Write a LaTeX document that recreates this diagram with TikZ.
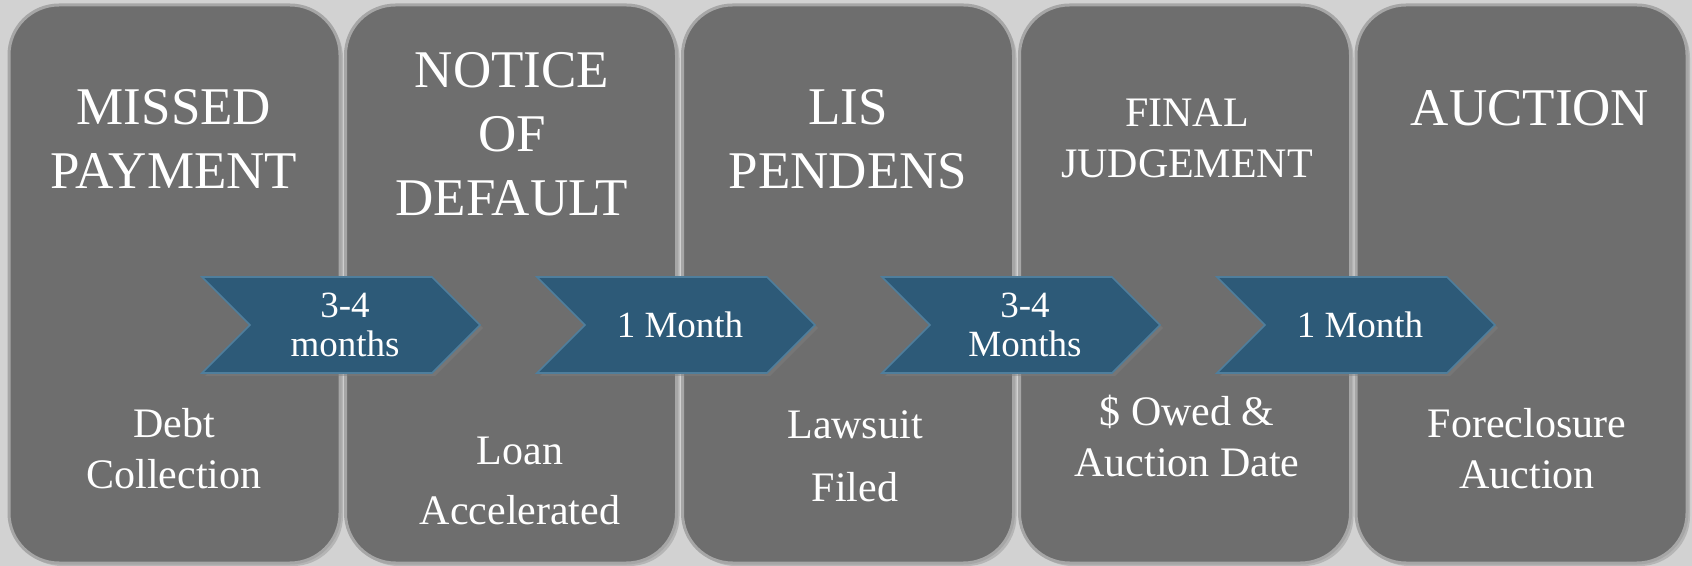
\documentclass[tikz,border=0pt]{standalone}
\usepackage{fontspec}
\setmainfont{Liberation Serif}
\usetikzlibrary{shapes.symbols,shadows}
\definecolor{bggray}{HTML}{D2D2D2}
\definecolor{boxgray}{HTML}{6E6E6E}
\definecolor{rimgray}{HTML}{A6A6A6}
\definecolor{chevblue}{HTML}{2D5A78}
\definecolor{chevrim}{HTML}{4F7E9C}

\tikzset{
  stage/.style={draw=rimgray, line width=1.5pt, fill=boxgray, rounded corners=25pt,
    minimum width=165.5pt, minimum height=279pt, inner sep=0pt,
    drop shadow={opacity=0.35, shadow xshift=1.5pt, shadow yshift=-1.5pt}},
  gap/.style={shape=signal, signal from=west, signal to=east, fill=chevblue, draw=chevrim,
    line width=0.8pt, minimum width=139pt, minimum height=48pt, inner sep=0pt,
    text=white, align=center, font=\fontsize{18.5}{19.5}\selectfont,
    drop shadow={opacity=0.45, shadow xshift=1.5pt, shadow yshift=-1.5pt}},
  head/.style={text=white, align=center, font=\fontsize{26.5}{32}\selectfont},
  note/.style={text=white, align=center, font=\fontsize{21}{25.5}\selectfont},
}

\begin{document}
\begin{tikzpicture}[x=0.5pt, y=-0.5pt]
  % background
  \fill[bggray] (0,0) rectangle (1692,566);
  \useasboundingbox (0,0) rectangle (1692,566);

  % the five stages
  \node[stage] (missed)  at (174.5,284) {};
  \node[stage] (notice)  at (511,284) {};
  \node[stage] (lis)     at (848,284) {};
  \node[stage] (final)   at (1185,284) {};
  \node[stage] (auction) at (1521.5,284) {};

  % time between stages
  \node[gap] (gap1) at (341,325)  {\hspace{4pt}3-4\\\hspace{4pt}months};
  \node[gap] (gap2) at (676,325)  {\hspace{4pt}1 Month};
  \node[gap] (gap3) at (1021,325) {\hspace{4pt}3-4\\\hspace{4pt}Months};
  \node[gap] (gap4) at (1356,325) {\hspace{4pt}1 Month};

  % stage titles
  \node[head] (missedhead)  at (174,139)  {MISSED\\PAYMENT};
  \node[head] (noticehead)  at (512,134)  {NOTICE\\OF\\DEFAULT};
  \node[head] (lishead)     at (848,139)  {LIS\\PENDENS};
  \node[head, font=\fontsize{21}{25.5}\selectfont] (finalhead) at (1187,138) {FINAL\\JUDGEMENT};
  \node[head] (auctionhead) at (1530,108) {AUCTION};

  % what happens
  \node[note] (missednote)  at (174,449)  {Debt\\Collection};
  \node[note] (noticenote)  at (520,481)  {Loan\\[4.5pt]Accelerated};
  \node[note] (lisnote)     at (855,456)  {Lawsuit\\[6pt]Filed};
  \node[note] (finalnote)   at (1187,436) {\$ Owed \&\\Auction Date};
  \node[note] (auctionnote) at (1527,449) {Foreclosure\\Auction};
\end{tikzpicture}
\end{document}
